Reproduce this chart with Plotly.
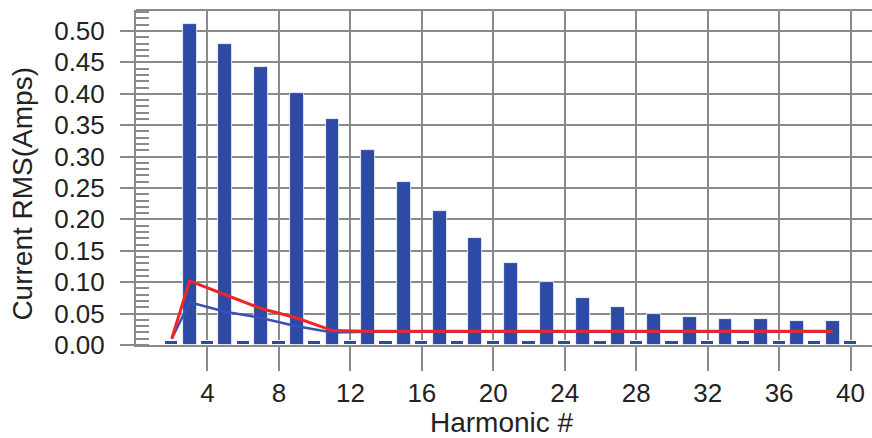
import plotly.graph_objects as go

# Harmonic current spectrum (odd harmonics dominate, even ones are tiny)
odd_harmonics = list(range(3, 40, 2))
odd_current = [0.511, 0.480, 0.443, 0.402, 0.360, 0.310, 0.260, 0.214, 0.171, 0.131,
               0.101, 0.075, 0.060, 0.049, 0.044, 0.041, 0.041, 0.038, 0.038]

even_harmonics = list(range(2, 41, 2))
even_current = [0.006, 0.006, 0.006, 0.006, 0.006, 0.007, 0.007, 0.007, 0.007, 0.007,
                0.007, 0.006, 0.006, 0.006, 0.006, 0.006, 0.006, 0.006, 0.006, 0.006]

# Limit curves
line_harmonics = [2] + list(range(3, 40, 2))
red_limit = [0.010, 0.102, 0.080, 0.058, 0.043, 0.023] + [0.022] * 14
blue_limit = [0.010, 0.068, 0.053, 0.043, 0.030, 0.020] + [0.021] * 14

x_ticks = list(range(4, 41, 4))

BAR_BLUE = "#2d4aa6"
GRID = "#8a8a8a"
TEXT = "#222222"
FONT = "Liberation Sans, Arial, sans-serif"

fig = go.Figure()

fig.add_trace(go.Bar(
    x=odd_harmonics, y=odd_current, width=0.78,
    marker=dict(color=BAR_BLUE, line=dict(color="white", width=0.8)),
    showlegend=False,
))
fig.add_trace(go.Bar(
    x=even_harmonics, y=even_current, width=0.74,
    marker=dict(color=BAR_BLUE, line=dict(color="white", width=1)),
    showlegend=False,
))
fig.add_trace(go.Scatter(
    x=line_harmonics, y=blue_limit, mode="lines",
    line=dict(color="#3c50b4", width=2.5), showlegend=False,
))
fig.add_trace(go.Scatter(
    x=line_harmonics, y=red_limit, mode="lines",
    line=dict(color="#f22424", width=3), showlegend=False,
))

fig.update_layout(
    width=872, height=438,
    margin=dict(l=136, r=0, t=10, b=93),
    paper_bgcolor="white", plot_bgcolor="white",
    barmode="overlay", bargap=0,
    font=dict(family=FONT, color=TEXT),
    xaxis=dict(
        range=[0, 41.2], tickvals=x_ticks,
        showgrid=True, gridcolor=GRID, gridwidth=2,
        ticks="outside", ticklen=24, tickwidth=2, tickcolor=GRID,
        ticklabelstandoff=0,
        tickfont=dict(size=26, family=FONT, color=TEXT),
        showline=True, linecolor=GRID, linewidth=2,
        zeroline=False,
    ),
    yaxis=dict(
        range=[0, 0.5334], tick0=0, dtick=0.05, tickformat=".2f",
        showgrid=True, gridcolor=GRID, gridwidth=2,
        ticks="outside", ticklen=14, tickwidth=2, tickcolor=GRID,
        ticklabelstandoff=10,
        tickfont=dict(size=26, family=FONT, color=TEXT),
        showline=True, linecolor=GRID, linewidth=2,
        zeroline=False,
        minor=dict(ticks="inside", ticklen=13, tickwidth=2, tickcolor=GRID,
                   tick0=0, dtick=0.01, showgrid=False),
    ),
    shapes=[dict(type="line", xref="paper", yref="paper", x0=0, x1=1, y0=1, y1=1,
                 line=dict(color=GRID, width=2))],
    annotations=[
        dict(text="Current RMS(Amps)", xref="paper", yref="paper",
             x=-0.1535, y=0.452, textangle=-90, showarrow=False,
             xanchor="center", yanchor="middle",
             font=dict(size=28, family=FONT, color=TEXT)),
        dict(text="Harmonic #", xref="paper", yref="paper",
             x=0.497, y=-0.232, showarrow=False,
             xanchor="center", yanchor="middle",
             font=dict(size=28, family=FONT, color=TEXT)),
    ],
)

fig.write_html("out.html")
